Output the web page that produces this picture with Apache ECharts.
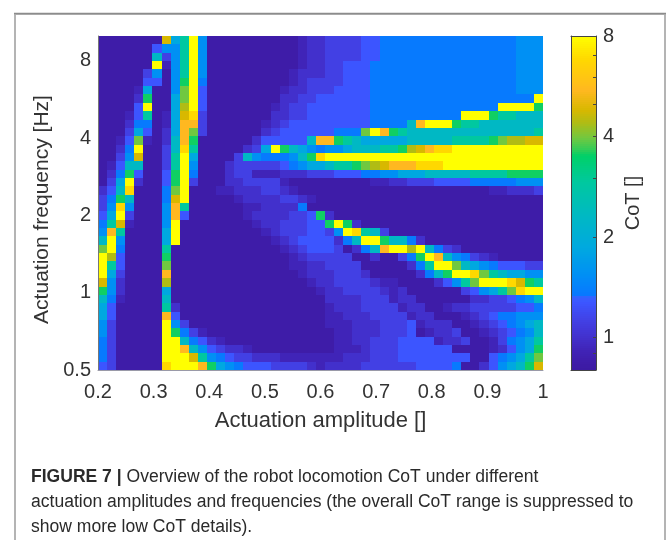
<!DOCTYPE html>
<html><head><meta charset="utf-8">
<style>html,body{margin:0;padding:0;background:#fff}#c{width:667px;height:540px}</style>
<script src="https://cdn.jsdelivr.net/npm/echarts@6/dist/echarts.min.js"></script>
</head><body><div id="c"></div>
<script>
// CoT, one letter per cell (see cotByLetter). Top row = highest frequency.
const cotRows = [
"aaaaaaanhj qgaaaaaaaa aabccdddde efffffffff ffffffggg",
"aaaaaaeggj qgaaaaaaaa aabccdddde efffffffff ffffffggg",
"aaaaaaidgj qgaaaaaaaa aabccdddde efffffffff ffffffggg",
"aaaaaaqbgj qgaaaaaaaa aabccddeee ffffffffff ffffffggg",
"aaaaadgagj qgaaaaaaaa abcccddeee ffffffffff ffffffggg",
"aaaaaeeagk qfaaaaaaaa abcddddeee ffffffffff ffffffggg",
"aaaabhaagl qeaaaaaaaa bccdddeeee ffffffffff ffffffggg",
"aaaackaahl qeaaaaaaaa ccddeeeeee ffffffffff ffffffffq",
"aaaaeqaahm qeaaaaaaab cddeeeeeee ffffffffff ffffqqqqk",
"aaabejabhn pdaaaaaaac cddeeeeeee ffffffffff qqqkjjiii",
"aaacffabho odaaaaaabc deeeeeeeee ffffioqqqk jjiiiiiii",
"aaadheacho ldaaaaaacd eeeeeefffl qokjiiiiii iiiiiiiij",
"aabelbacio kaaaaaacee eeeiookjih hhhhiiiiij jjjklmmnn",
"aacfqaadip jaaaaacdhq kihgfgghii ijjkmnoppq qqqqqqqqq",
"aadgnaadjq haaaadigff fgikpqqqqq qqqqqqqqqq qqqqqqqqq",
"abeiiaadjq gaaacddddd efghhijjkl mnooopppqq qqqqqqqqq",
"acfkeaaekq faaacddbbb cccdddeeef fgghhhiiii ijjjjkkkk",
"adhqcaaekq daaaccdddd baaaaaaaaa bbccdddeee efffffggg",
"ceipaaaflq aaabbcccdd cbaaaaaaaa aaaaaaaaaa aaabbcccd",
"dfkiaaafnq aaaaabcccc ddcbaaaaaa aaaaaaaaaa aaaaaaaaa",
"dgpgaaagoj aaaaaabbcc ccfaaaaaaa aaaaaaaaaa aaaaaaaaa",
"ehqdaaagoe aaaaaabccc cddekcaaaa aaaaaaaaaa aaaaaaaaa",
"fjnbaaagqa aaaaaaabcc dddeekqkca aaaaaaaaaa aaaaaaaaa",
"gojaaaahqa aaaaaaaabc dddeedgqpj idaaaaaaaa aaaaaaaaa",
"iqgaaaahqa aaaaaaaaab cdeeeecfiq qkiifcaaaa aaaaaaaaa",
"lqfaaaajaa aaaaaaaaaa bcdeeedacf ioqqmqifdc aaaaaaaaa",
"qmeaaaakaa aaaaaaaaaa abcdddddaa caadfkqoig fdcbaaaaa",
"qjeaaaalaa aaaaaaaaaa abbccdddda aaaacfjqql ihgfeeedd",
"qhdaaaaoaa aaaaaaaaaa aabcccdddc aaaaacfikq qpljihhgg",
"ngcaaaamaa aaaaaaaaaa aaabccdddd cbbaaaaceg jlqqqpnkj",
"kgcaaaahaa aaaaaaaaaa aaaabccddd dcbcaaaaaa deghjlpqq",
"ifbaaaaiaa aaaaaaaaaa aaaaaccccd ddbccaaaaa accddefgi",
"heaaaaajca aaaaaaaaaa aaaaabcccd dddbccaabc cdddddeef",
"heaaaaaoea aaaaaaaaaa aaaaabbccc ddddbccaaa bcdeffggg",
"gdaaaaaqgd aaaaaaaaaa aaaaabbbcc cdddebccca abcdefghi",
"gdaaaaaqkf dbaaaaaaaa aaaaaabbcc cdddeabccd aabcdefgi",
"fdaaaaaqqi fecbaaaaaa aaaaaabbcc dddeeeebcc daabdfghj",
"fdaaaaaqqo igedccbaaa aaaaaabbbc dddeeeeeea aaabceghk",
"fdaaaaaqqq njgfeddccc bbbbbbbccc dddeeeeeee eaaefghjl",
"edaaaaapqq qokhgfeeed dddcbccccd dddddeeeef aaceghikn"
];
const cotByLetter = {a:0.84,b:0.92,c:1.0,d:1.12,e:1.27,f:1.36,g:1.55,h:1.85,i:2.3,j:2.9,k:3.55,l:3.95,m:4.4,n:4.8,o:5.5,p:6.8,q:8};
const colorStops = [[0.8,"#3c1aa2"],[0.84,"#3e1ca8"],[0.92,"#4024b8"],[1.0,"#4230cc"],[1.12,"#4240e4"],[1.27,"#3c55ff"],[1.32,"#3860ff"],[1.34,"#0878ff"],[1.55,"#0090f4"],[1.85,"#00a8e0"],[2.3,"#00b8c4"],[2.9,"#00c8a0"],[3.5,"#00d068"],[3.65,"#30cc58"],[3.95,"#70c840"],[4.4,"#b0bc14"],[4.8,"#d8b800"],[5.5,"#ffb820"],[6.8,"#ffd800"],[8,"#ffff00"]];
const ampRange = [0.2, 1];
const freqRange = [0.5, 10];
const cotRange = [0.8, 8];
const xTicks = [0.2,0.3,0.4,0.5,0.6,0.7,0.8,0.9,1];
const yTicks = [0.5,1,2,4,8];
const barLabels = [1,2,4,8];
const barTicks = [0.9,1,2,3,4,5,6,7,8];
const caption = ["Overview of the robot locomotion CoT under different","actuation amplitudes and frequencies (the overall CoT range is suppressed to","show more low CoT details)."];

function hex(c){return [1,3,5].map(i=>parseInt(c.substr(i,2),16));}
function colorOf(v){
  if(v<=colorStops[0][0])return colorStops[0][1];
  for(let i=1;i<colorStops.length;i++){
    if(v<=colorStops[i][0]){
      const [a,ca]=colorStops[i-1],[b,cb]=colorStops[i];
      const t=Math.log(v/a)/Math.log(b/a),A=hex(ca),B=hex(cb);
      return "rgb("+A.map((x,k)=>Math.round(x+(B[k]-x)*t)).join(",")+")";
    }
  }
  return colorStops[colorStops.length-1][1];
}
const rows = cotRows.map(r=>r.replace(/ /g,""));
const nR = rows.length, nC = rows[0].length;
const cells = [];
rows.forEach((r,i)=>{
  for(let c=0;c<nC;c++){
    const a0=ampRange[0]+(ampRange[1]-ampRange[0])*c/nC, a1=ampRange[0]+(ampRange[1]-ampRange[0])*(c+1)/nC;
    const ratio=freqRange[1]/freqRange[0];
    const f1=freqRange[1]/Math.pow(ratio,i/nR), f0=freqRange[1]/Math.pow(ratio,(i+1)/nR);
    cells.push([a0,a1,f0,f1,cotByLetter[r[c]]]);
  }
});
const barCells=[];
for(let i=0;i<167;i++){
  const k=cotRange[1]/cotRange[0];
  const v0=cotRange[0]*Math.pow(k,i/167), v1=cotRange[0]*Math.pow(k,(i+1)/167);
  barCells.push([0,1,v0,v1,Math.sqrt(v0*v1)]);
}
function rectItem(p,api){
  const a=api.coord([api.value(0),api.value(3)]), b=api.coord([api.value(1),api.value(2)]);
  const x=Math.round(a[0]),y=Math.round(a[1]);
  return {type:"rect",shape:{x:x,y:y,width:Math.round(b[0])-x,height:Math.round(b[1])-y},style:{fill:colorOf(api.value(4))}};
}
const ink="#333333", font="Liberation Sans", barLine={show:true,onZero:false,lineStyle:{color:"#444",width:1}};
const chart=echarts.init(document.getElementById("c"),null,{renderer:"canvas"});
chart.setOption({
  animation:false,backgroundColor:"#fff",textStyle:{fontFamily:font},
  grid:[{left:98,top:36,width:445,height:334},{left:571,top:36,width:25,height:334}],
  xAxis:[
   {gridIndex:0,type:"value",z:10,min:ampRange[0],max:ampRange[1],interval:0.1,name:"Actuation amplitude []",nameLocation:"middle",nameGap:40,
    nameTextStyle:{fontSize:22,color:ink,fontFamily:font},
    axisLine:{show:true,lineStyle:{color:"#9a9aa8",width:1}},axisTick:{show:false},splitLine:{show:false},
    axisLabel:{fontSize:20,color:ink,margin:12,fontFamily:font,customValues:xTicks,formatter:v=>String(+v.toFixed(1))}},
   {gridIndex:1,type:"value",z:10,position:"bottom",min:0,max:1,axisLine:barLine,axisTick:{show:false},axisLabel:{show:false},splitLine:{show:false}},
   {gridIndex:1,type:"value",z:10,position:"top",min:0,max:1,axisLine:barLine,axisTick:{show:false},axisLabel:{show:false},splitLine:{show:false}}
  ],
  yAxis:[
   {gridIndex:0,type:"log",z:10,logBase:2,min:freqRange[0],max:freqRange[1],name:"Actuation frequency [Hz]",nameLocation:"middle",nameGap:43,
    nameTextStyle:{fontSize:21,color:ink,fontFamily:font,padding:[0,13,0,0]},
    axisLine:{show:true,lineStyle:{color:"#777",width:1}},axisTick:{show:false},splitLine:{show:false},minorTick:{show:false},
    axisLabel:{fontSize:20,color:ink,margin:7,fontFamily:font,customValues:yTicks,formatter:v=>String(v)}},
   {gridIndex:1,type:"log",z:10,logBase:2,min:cotRange[0],max:cotRange[1],position:"right",name:"CoT []",nameLocation:"middle",nameGap:27,nameRotate:90,
    nameTextStyle:{fontSize:20,color:ink,fontFamily:font},
    axisLine:barLine,splitLine:{show:false},
    axisTick:{show:true,inside:true,length:3,lineStyle:{color:"#444"},customValues:barTicks},
    axisLabel:{fontSize:20,color:ink,margin:7,fontFamily:font,customValues:barLabels,formatter:v=>String(v)}},
   {gridIndex:1,type:"log",z:10,logBase:2,min:cotRange[0],max:cotRange[1],position:"left",axisLine:barLine,splitLine:{show:false},axisTick:{show:false},axisLabel:{show:false}}
  ],
  series:[
   {type:"custom",xAxisIndex:0,yAxisIndex:0,data:cells,encode:{x:[0,1],y:[2,3]},renderItem:rectItem,silent:true,clip:true},
   {type:"custom",xAxisIndex:1,yAxisIndex:1,data:barCells,encode:{x:[0,1],y:[2,3]},renderItem:rectItem,silent:true,clip:true}
  ],
  graphic:[
   {type:"polyline",silent:true,shape:{points:[[15,540],[15,14],[665,14],[665,540]]},style:{fill:null,stroke:"#b4b4b4",lineWidth:2}},
   {type:"line",silent:true,shape:{x1:14,y1:13.5,x2:666,y2:13.5},style:{stroke:"#8c8c8c",lineWidth:1.5}},
   {type:"text",silent:true,left:31,top:468,style:{text:"{b|FIGURE 7 | }"+caption[0],font:"17.55px "+font,fill:"#2a2a2a",rich:{b:{font:"bold 17.55px "+font,fill:"#2a2a2a"}}}},
   {type:"text",silent:true,left:31,top:493,style:{text:caption[1],font:"17.55px "+font,fill:"#2a2a2a"}},
   {type:"text",silent:true,left:31,top:518,style:{text:caption[2],font:"17.55px "+font,fill:"#2a2a2a"}}
  ]
});
</script></body></html>
